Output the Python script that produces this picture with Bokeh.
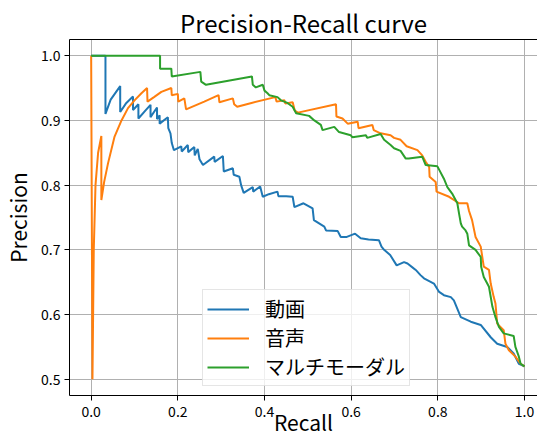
from bokeh.plotting import figure
from bokeh.models import LinearAxis, FixedTicker, Range1d
from bokeh.embed import file_html
from bokeh.resources import INLINE

title_text = "Precision-Recall curve"
x_label = "Recall"
y_label = "Precision"
series_names = ["動画", "音声", "マルチモーダル"]
series_colors = ["#1f77b4", "#ff7f0e", "#2ca02c"]
x_ticks = [0.0, 0.2, 0.4, 0.6, 0.8, 1.0]
x_tick_labels = ["0.0", "0.2", "0.4", "0.6", "0.8", "1.0"]
y_ticks = [0.5, 0.6, 0.7, 0.8, 0.9, 1.0]
y_tick_labels = ["0.5", "0.6", "0.7", "0.8", "0.9", "1.0"]

video_recall = [0.000, 0.033, 0.033, 0.045, 0.067, 0.067, 0.080, 0.0965, 0.0965, 0.109, 0.109,
                0.125, 0.137, 0.137, 0.152, 0.152, 0.158, 0.158, 0.177, 0.178, 0.183, 0.186,
                0.191, 0.208, 0.209, 0.223, 0.224, 0.238, 0.239, 0.246, 0.250, 0.258, 0.284,
                0.285, 0.304, 0.306, 0.327, 0.329, 0.342, 0.346, 0.352, 0.373, 0.374, 0.390,
                0.396, 0.410, 0.430, 0.432, 0.450, 0.465, 0.469, 0.490, 0.511, 0.514, 0.538,
                0.542, 0.569, 0.576, 0.590, 0.609, 0.622, 0.640, 0.664, 0.670, 0.676, 0.690,
                0.705, 0.722, 0.730, 0.745, 0.749, 0.760, 0.768, 0.791, 0.803, 0.814, 0.830,
                0.837, 0.853, 0.876, 0.899, 0.922, 0.937, 0.960, 0.975, 0.987, 1.000]
video_precision = [1.000, 1.000, 0.910, 0.932, 0.953, 0.913, 0.926, 0.937, 0.916, 0.925, 0.903,
                   0.915, 0.924, 0.905, 0.920, 0.902, 0.908, 0.895, 0.905, 0.888, 0.880, 0.865,
                   0.854, 0.860, 0.852, 0.862, 0.851, 0.859, 0.846, 0.856, 0.840, 0.831, 0.844,
                   0.836, 0.845, 0.821, 0.826, 0.816, 0.813, 0.800, 0.788, 0.797, 0.790, 0.798,
                   0.782, 0.786, 0.790, 0.783, 0.783, 0.782, 0.766, 0.772, 0.764, 0.746, 0.736,
                   0.730, 0.729, 0.720, 0.720, 0.725, 0.718, 0.716, 0.715, 0.705, 0.700, 0.692,
                   0.676, 0.681, 0.679, 0.671, 0.669, 0.661, 0.656, 0.648, 0.635, 0.630, 0.627,
                   0.622, 0.596, 0.589, 0.584, 0.565, 0.555, 0.550, 0.540, 0.524, 0.520]

audio_recall = [0.000, 0.003, 0.006, 0.010, 0.016, 0.0235, 0.0235, 0.030, 0.039, 0.054, 0.070,
                0.085, 0.100, 0.116, 0.129, 0.130, 0.145, 0.162, 0.185, 0.186, 0.200, 0.201,
                0.215, 0.219, 0.261, 0.294, 0.296, 0.327, 0.330, 0.337, 0.370, 0.425, 0.428,
                0.446, 0.448, 0.465, 0.470, 0.477, 0.565, 0.566, 0.580, 0.592, 0.615, 0.617,
                0.649, 0.652, 0.668, 0.691, 0.699, 0.714, 0.728, 0.753, 0.764, 0.772, 0.780,
                0.781, 0.795, 0.797, 0.826, 0.849, 0.868, 0.872, 0.879, 0.887, 0.899, 0.906,
                0.918, 0.922, 0.929, 0.933, 0.937, 0.952, 0.956, 0.964, 0.979, 0.991, 1.000]
audio_precision = [1.000, 0.500, 0.700, 0.800, 0.850, 0.876, 0.777, 0.805, 0.834, 0.875, 0.900,
                   0.919, 0.931, 0.942, 0.950, 0.929, 0.936, 0.944, 0.950, 0.939, 0.941, 0.929,
                   0.934, 0.917, 0.929, 0.939, 0.928, 0.934, 0.925, 0.921, 0.927, 0.936, 0.929,
                   0.931, 0.926, 0.928, 0.915, 0.912, 0.925, 0.906, 0.903, 0.895, 0.898, 0.888,
                   0.893, 0.885, 0.880, 0.877, 0.873, 0.870, 0.860, 0.854, 0.846, 0.836, 0.828,
                   0.813, 0.805, 0.790, 0.782, 0.772, 0.772, 0.760, 0.746, 0.720, 0.705, 0.674,
                   0.669, 0.648, 0.627, 0.617, 0.586, 0.576, 0.555, 0.545, 0.535, 0.524, 0.520]

multi_recall = [0.000, 0.159, 0.159, 0.185, 0.186, 0.252, 0.254, 0.265, 0.371, 0.373, 0.380,
                0.396, 0.400, 0.407, 0.411, 0.430, 0.438, 0.453, 0.465, 0.473, 0.503, 0.515,
                0.530, 0.534, 0.561, 0.572, 0.599, 0.603, 0.634, 0.637, 0.668, 0.676, 0.691,
                0.699, 0.714, 0.726, 0.733, 0.764, 0.772, 0.799, 0.814, 0.822, 0.833, 0.845,
                0.849, 0.853, 0.856, 0.864, 0.868, 0.872, 0.887, 0.899, 0.900, 0.906, 0.914,
                0.918, 0.926, 0.933, 0.941, 0.952, 0.975, 0.979, 0.987, 0.991, 1.000]
multi_precision = [1.000, 1.000, 0.980, 0.980, 0.968, 0.975, 0.960, 0.955, 0.968, 0.955, 0.951,
                   0.955, 0.946, 0.942, 0.939, 0.936, 0.931, 0.927, 0.921, 0.911, 0.907, 0.900,
                   0.893, 0.885, 0.890, 0.882, 0.877, 0.874, 0.877, 0.873, 0.879, 0.870, 0.862,
                   0.857, 0.853, 0.841, 0.841, 0.844, 0.831, 0.829, 0.810, 0.797, 0.787, 0.772,
                   0.756, 0.741, 0.736, 0.730, 0.725, 0.707, 0.700, 0.689, 0.674, 0.658, 0.648,
                   0.643, 0.612, 0.596, 0.581, 0.571, 0.567, 0.550, 0.535, 0.524, 0.520]

FONT = "Noto Sans CJK JP"
X0, X1 = -0.05, 1.03
Y0, Y1 = 0.475, 1.025

p = figure(width=537, height=439, output_backend="svg", toolbar_location=None,
           x_range=Range1d(X0, X1), y_range=Range1d(Y0, Y1),
           min_border_left=68, min_border_right=0, min_border_top=39, min_border_bottom=44)
p.outline_line_color = None
p.background_fill_color = "white"
p.border_fill_color = "white"

p.title.text = title_text
p.title.align = "center"
p.title.text_font = FONT
p.title.text_font_size = "24px"
p.title.text_font_style = "normal"
p.title.text_color = "black"
p.title.offset = 4
p.title.standoff = 0

xs = [video_recall, audio_recall, multi_recall]
ys = [video_precision, audio_precision, multi_precision]
for x, y, name, col in zip(xs, ys, series_names, series_colors):
    p.line(x, y, line_color=col, line_width=2, legend_label=name)

for ax in (p.xaxis[0], p.yaxis[0]):
    ax.axis_line_color = "black"
    ax.axis_line_width = 1
    ax.major_tick_line_color = "black"
    ax.major_tick_out = 5
    ax.major_tick_in = 0
    ax.minor_tick_line_color = None
    ax.major_label_text_font = FONT
    ax.major_label_text_font_size = "14px"
    ax.major_label_text_color = "black"
    ax.axis_label_text_font = FONT
    ax.axis_label_text_font_size = "21px"
    ax.axis_label_text_font_style = "normal"
    ax.axis_label_text_color = "black"

p.xaxis[0].axis_label = x_label
p.yaxis[0].axis_label = y_label
p.xaxis[0].major_label_standoff = 5
p.yaxis[0].major_label_standoff = 4
p.xaxis[0].axis_label_standoff = -13
p.xaxis[0].axis_label_text_baseline = "bottom"
p.yaxis[0].axis_label_standoff = 5
p.xaxis[0].ticker = FixedTicker(ticks=x_ticks)
p.yaxis[0].ticker = FixedTicker(ticks=y_ticks)
p.xaxis[0].major_label_overrides = dict(zip(x_ticks, x_tick_labels))
p.yaxis[0].major_label_overrides = dict(zip(y_ticks, y_tick_labels))

top = LinearAxis(ticker=FixedTicker(ticks=[]), major_label_text_font_size="0px",
                 major_label_standoff=0, major_tick_out=0, minor_tick_out=0,
                 axis_line_color="black")
p.add_layout(top, "above")

p.xgrid[0].ticker = FixedTicker(ticks=x_ticks)
p.ygrid[0].ticker = FixedTicker(ticks=y_ticks)
for g in (p.xgrid[0], p.ygrid[0]):
    g.grid_line_color = "#b0b0b0"
    g.grid_line_width = 1

lg = p.legend[0]
lg.location = (133, 9)
lg.label_text_font = FONT
lg.label_text_font_size = "20px"
lg.label_text_color = "black"
lg.glyph_width = 42
lg.glyph_height = 20
lg.label_height = 20
lg.label_standoff = 16
lg.spacing = 0
lg.padding = 4
lg.margin = 0
lg.border_line_color = "#cccccc"
lg.border_line_width = 1
lg.background_fill_color = "white"
lg.background_fill_alpha = 0.8

open("out.html", "w").write(file_html(p, INLINE))
